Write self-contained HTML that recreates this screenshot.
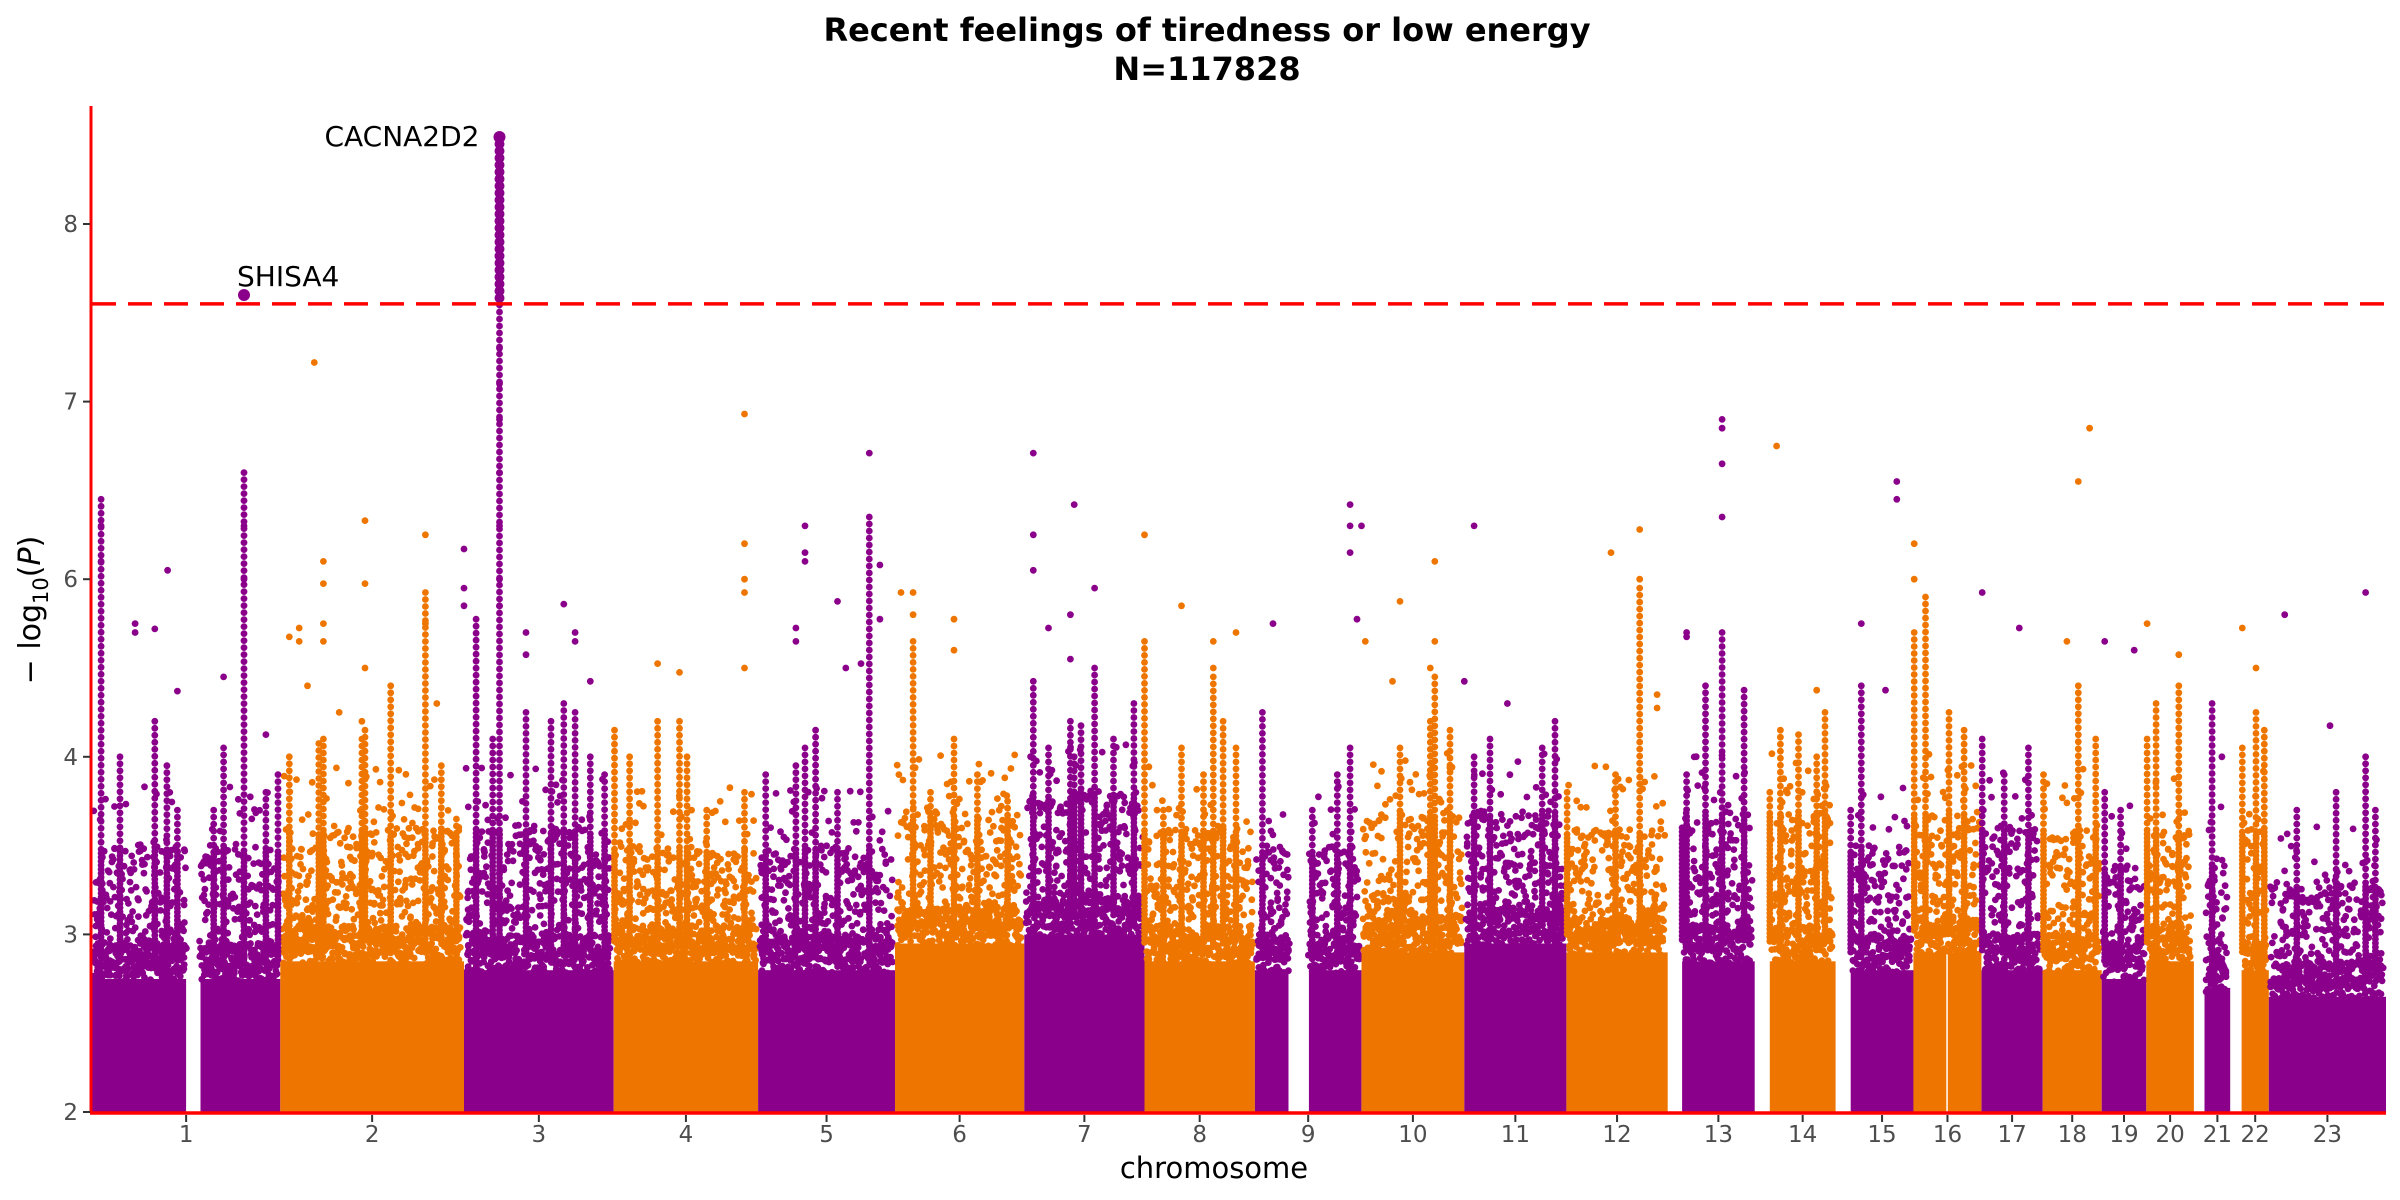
<!DOCTYPE html>
<html><head><meta charset="utf-8"><title>Manhattan plot</title>
<style>
html,body{margin:0;padding:0;background:#fff;}
svg{display:block;font-family:"DejaVu Sans","Liberation Sans",sans-serif;}
</style></head>
<body>
<svg id="chart" width="2400" height="1200" viewBox="0 0 2400 1200" xmlns="http://www.w3.org/2000/svg">
<text x="1207" y="41" text-anchor="middle" font-size="32" font-weight="bold" fill="#000">Recent feelings of tiredness or low energy</text>
<text x="1207" y="80" text-anchor="middle" font-size="32" font-weight="bold" fill="#000">N=117828</text>
<g id="marks"></g>
<g id="axes"></g>
<text x="1214" y="1178" text-anchor="middle" font-size="29" fill="#000">chromosome</text>
<text transform="translate(40,610) rotate(-90)" text-anchor="middle" font-size="30" fill="#000">− log<tspan font-size="21" dy="8">10</tspan><tspan dy="-8">(</tspan><tspan font-style="italic">P</tspan>)</text>
</svg>
<script>
// ---- data ----
const chrLabels=["1","2","3","4","5","6","7","8","9","10","11","12","13","14","15","16","17","18","19","20","21","22","23"];
const chrLen=[249,243,198,191,181,171,159,146,141,136,135,134,115,107,103,90,81,78,59,63,48,51,155];
const chrDataStart=[0,0,0,0,0,0,0,0,0,0,0,0,19,20,20,0,0,0,0,0,14,15,0];
const gapChr=[1,9,16];
const gapFrom=[125,45,44];
const gapTo=[143,71,45];
const solidTop=[2.85,2.95,2.9,2.95,2.9,3.05,3.1,2.95,2.9,3.0,3.05,3.0,2.95,2.95,2.9,3.0,2.9,2.9,2.85,2.95,2.8,2.9,2.75];
const cloudTop=[3.5,3.6,3.6,3.5,3.5,3.7,3.8,3.6,3.5,3.7,3.7,3.6,3.7,3.7,3.5,3.7,3.6,3.6,3.4,3.6,3.4,3.6,3.3];
const yTickLabels=["2","3","4","6","7","8"];
const yTickVals=[2,3,4,6,7,8];
const threshold=7.55;
// streak columns
const colChr=[1,1,1,1,1,1,1,1,1,1, 2,2,2,2,2,2,2,2,2, 3,3,3,3,3,3,3,3,3, 4,4,4,4,4,4,4, 5,5,5,5,5,5, 6,6,6,6,6, 7,7,7,7,7,7,7,7, 8,8,8,8,8,8,8, 9,9,9,9, 10,10,10,10, 11,11,11,11, 12,12,12, 13,13,13,13,13, 14,14,14,14,14, 15,15, 16,16,16,16, 17,17,17, 18,18,18, 19,19, 20,20,20, 21, 22,22,22, 23,23,23,23];
const colPos=[12,37,83,99,113,161,174,201,230,246, 12,51,108,146,192,213,233,57,112, 16,38,47,82,115,132,147,167,186, 1,21,58,87,97,123,173, 10,50,62,76,105,147, 24,47,78,109,149, 12,32,61,75,93,118,145,66, 0,25,49,78,91,104,121, 10,76,109,126, 51,91,97,117, 34,103,120,13, 1,65,97, 19,25,50,72,101, 20,34,58,93,82, 20,34, 1,16,47,67, 1,30,62, 1,47,70, 4,25, 1,13,43, 24, 16,34,45, 37,89,128,141];
const colTop=[6.45,4.0,4.4,3.95,3.7,3.7,4.1,6.6,3.8,3.9, 4.0,4.15,4.2,4.8,5.85,3.95,3.65,4.2,4.3, 5.55,4.2,8.49,4.5,4.4,4.6,4.5,4.0,3.9, 4.3,4.0,4.4,4.4,4.0,3.7,3.8, 3.9,3.95,4.1,4.3,3.8,6.35, 5.3,3.8,4.2,3.9,3.75, 4.85,4.1,4.4,4.35,5.0,4.2,4.6,4.0, 5.3,3.7,4.1,3.9,4.9,4.4,4.1, 4.5,3.7,3.9,4.1, 4.1,4.4,4.9,4.3, 4.2,4.1,4.4,4.0, 3.8,3.9,5.9, 3.6,3.9,4.8,5.4,4.75, 3.8,4.3,4.25,4.5,4.0, 3.7,4.8, 5.4,5.8,4.5,4.3, 4.2,3.9,4.1, 3.9,4.8,4.2, 3.8,3.7, 4.2,4.6,4.8, 4.6, 4.1,4.5,4.3, 3.7,3.8,4.0,3.7];
// isolated points
const ptChr=[1,1,1,1,1,1,1,1,1,1,1, 2,2,2,2,2,2,2,2,2,2,2,2,2,2,2,2,2, 3,3,3,3,3,3,3,3,3,3,3,3,3,3,3,3, 4,4,4,4,4,4,4, 5,5,5,5,5,5,5,5,5,5,5, 6,6,6,6,6, 7,7,7,7,7,7,7,7, 8,8,8,8,8, 9,9,9,9,9,9, 10,10,10,10,10,10, 11,11,11, 12,12,12,12,12, 13,13,13,13,13,13, 14,14, 15,15,15,15, 16,16, 17,17, 18,18,18, 19,19, 20,20, 21, 22,22, 23,23,23];
const ptPos=[12,12,57,57,83,100,113,174,201,201,230, 12,25,25,36,45,57,57,57,57,78,108,112,112,112,192,192,207, 0,0,0,47,47,47,47,47,47,47,82,82,132,147,147,167, 58,87,173,173,173,173,173, 50,50,62,62,62,105,116,147,161,161,136, 8,24,24,78,78, 12,12,12,32,61,61,66,93, 0,49,91,91,121, 141,24,126,126,126,135, 5,41,51,91,97,97, 0,13,57, 59,97,97,120,120, 25,25,72,72,72,72, 29,82, 34,66,81,81, 1,1, 1,50, 32,47,62, 4,43, 1,43, 37, 16,34, 21,81,128];
const ptVal=[6.3,6.1,5.5,5.4,5.44,6.05,4.74,4.9,6.3,6.0,4.25, 5.35,5.45,5.3,4.8,7.22,6.1,5.95,5.5,5.3,4.5,4.4,6.33,5.95,5.0,6.25,5.5,4.6, 6.17,5.9,5.7,7.3,7.1,6.9,6.6,6.3,6.0,5.7,5.4,5.15,5.72,5.3,5.4,4.85, 5.05,4.95,6.93,6.2,6.0,5.85,5.0, 5.45,5.3,6.3,6.15,6.1,5.75,5.0,6.71,6.08,5.55,5.05, 5.85,5.85,5.6,5.55,5.2, 6.71,6.25,6.05,5.45,5.6,5.1,6.42,5.9, 6.25,5.7,5.3,5.0,5.4, 6.3,5.5,6.42,6.3,6.15,5.55, 5.3,4.85,5.75,5.0,6.1,5.3, 4.85,6.3,4.6, 6.15,6.28,6.0,4.7,4.55, 5.4,5.35,6.9,6.85,6.65,6.35, 6.75,4.75, 5.5,4.75,6.55,6.45, 6.2,6.0, 5.85,5.45, 5.3,6.55,6.85, 5.3,5.2, 5.5,5.15, 4.0, 5.45,5.0, 5.6,4.35,5.85];
// labelled hits
const hitChr=[1,3];
const hitPos=[201,47];
const hitVal=[7.6,8.49];
const hitGene=["SHISA4","CACNA2D2"];

// ---- scales ----
const NS="http://www.w3.org/2000/svg";
const X0=92,X1=2386,Y0=1112,YSTEP=177.6,YTOP=106;
const totalLen=chrLen.reduce((a,b)=>a+b,0);
const k=(X1-X0)/totalLen;
const cum=[];{let c=0;for(let i=0;i<chrLen.length;i++){cum.push(c);c+=chrLen[i];}}
function xPos(chr,mb){return X0+(cum[chr-1]+mb)*k;}
function yPos(v){
  for(let i=0;i<yTickVals.length-1;i++){
    const a=yTickVals[i],b=yTickVals[i+1];
    if(v<=b||i===yTickVals.length-2){return Y0-(i+(v-a)/(b-a))*YSTEP;}
  }
}
function colorOf(chr){return chr%2===1?"#8B008B":"#EE7600";}
function hash(n){const s=Math.sin(n*12.9898+78.233)*43758.5453;return s-Math.floor(s);}
function inGap(chr,mb){for(let g=0;g<gapChr.length;g++){if(gapChr[g]===chr&&mb>=gapFrom[g]&&mb<=gapTo[g])return true;}return false;}

const marks=document.getElementById("marks");
function dot(g,x,y,r,c){
  const e=document.createElementNS(NS,"circle");
  e.setAttribute("cx",x.toFixed(1));e.setAttribute("cy",y.toFixed(1));e.setAttribute("r",r);e.setAttribute("fill",c);
  g.appendChild(e);return e;
}

// solid base + cloud per chromosome
for(let c=1;c<=chrLen.length;c++){
  const g=document.createElementNS(NS,"g");
  
  
  marks.appendChild(g);
  const col=colorOf(c);
  const ys=yPos(solidTop[c-1]), yc=yPos(cloudTop[c-1]);
  let segStart=null;
  const step=0.5;
  for(let mb=chrDataStart[c-1];mb<=chrLen[c-1]+0.001;mb+=step){
    const gap=inGap(c,mb);
    if(!gap&&segStart===null)segStart=mb;
    if((gap||mb+step>chrLen[c-1])&&segStart!==null){
      const end=gap?mb-step:chrLen[c-1];
      const r=document.createElementNS(NS,"rect");
      const xa=xPos(c,segStart), xb=xPos(c,end);
      r.setAttribute("x",xa.toFixed(1));r.setAttribute("y",(ys+18).toFixed(1));
      r.setAttribute("width",Math.max(1,xb-xa).toFixed(1));r.setAttribute("height",(Y0-ys-18).toFixed(1));
      r.setAttribute("fill",col);
      
      
      g.appendChild(r);
      segStart=null;
    }
  }
  // cloud texture
  const xs=xPos(c,chrDataStart[c-1]), xe=xPos(c,chrLen[c-1]);
  let n=c*5000;
  for(let x=xs+3;x<=xe-3;x+=2){
    const mb=(x-X0)/k-cum[c-1];
    if(inGap(c,mb))continue;
    for(let j=0;j<10;j++){
      n++;
      const h=hash(n), h2=hash(n+0.5);
      let y;
      if(j<4){y=ys+22-40*h;}
      else if(j<9){y=ys+10-(ys-yc+10)*Math.pow(h,1.2);}
      else{ if(h2>0.35)continue; y=yc-(yc-yPos(cloudTop[c-1]+0.35))*h;}
      dot(g,x+(h2-0.5)*3,y,3.4,col);
    }
  }
}
// streak columns
for(let i=0;i<colChr.length;i++){
  const c=colChr[i], x=xPos(c,colPos[i]), col=colorOf(c);
  const g=document.createElementNS(NS,"g");
  
  
  marks.appendChild(g);
  const yTop=yPos(colTop[i]), yBase=yPos(solidTop[c-1]);
  const yCloud=yPos(cloudTop[c-1]);
  for(let y=yTop;y<=yBase;y+=(y<yCloud?7:4)){
    const big=(y<=yPos(threshold));
    dot(g,x,y,big?5:3.4,col);
  }
}
// isolated points
for(let i=0;i<ptChr.length;i++){
  const c=ptChr[i];
  const e=dot(marks,xPos(c,ptPos[i]),yPos(ptVal[i]),ptVal[i]>=threshold?5:3.4,colorOf(c));
  
  
}
// hits
for(let i=0;i<hitChr.length;i++){
  const x=xPos(hitChr[i],hitPos[i]), y=yPos(hitVal[i]);
  const e=dot(marks,x,y,6,colorOf(hitChr[i]));
  
  
  const t=document.createElementNS(NS,"text");
  
  
  t.setAttribute("font-size","28");t.setAttribute("fill","#000");
  if(i===0){t.setAttribute("x",(x-7).toFixed(1));t.setAttribute("y",(y-9).toFixed(1));}
  else{t.setAttribute("x",(x-20).toFixed(1));t.setAttribute("y",(y+9).toFixed(1));t.setAttribute("text-anchor","end");}
  t.textContent=hitGene[i];
  marks.appendChild(t);
}

// ---- axes ----
const axes=document.getElementById("axes");
function line(x1,y1,x2,y2,stroke,w,name,dash){
  const l=document.createElementNS(NS,"line");
  l.setAttribute("x1",x1);l.setAttribute("y1",y1);l.setAttribute("x2",x2);l.setAttribute("y2",y2);
  l.setAttribute("stroke",stroke);l.setAttribute("stroke-width",w);
  if(dash)l.setAttribute("stroke-dasharray",dash);
  
  
  axes.appendChild(l);return l;
}
const yt=yPos(threshold);
line(X0,yt,X1,yt,"#FF0000",3.5,"significance-threshold-line","24,12");
line(X0-1,YTOP,X0-1,Y0,"#FF0000",3,"y-axis-line");
line(X0-2,Y0+1,X1,Y0+1,"#FF0000",3.5,"x-axis-line");
for(let i=0;i<yTickVals.length;i++){
  const y=Y0-i*YSTEP;
  line(X0-9,y,X0-2,y,"#333",2,"y-tick");
  const t=document.createElementNS(NS,"text");
  
  
  t.setAttribute("x",X0-14);t.setAttribute("y",y+8);t.setAttribute("text-anchor","end");
  t.setAttribute("font-size","23");t.setAttribute("fill","#4D4D4D");
  t.textContent=yTickLabels[i];axes.appendChild(t);
}
for(let c=1;c<=chrLen.length;c++){
  const x=xPos(c,(chrDataStart[c-1]+chrLen[c-1])/2);
  line(x,Y0+3,x,Y0+10,"#333",2,"x-tick");
  const t=document.createElementNS(NS,"text");
  
  
  t.setAttribute("x",x);t.setAttribute("y",Y0+30);t.setAttribute("text-anchor","middle");
  t.setAttribute("font-size","23");t.setAttribute("fill","#4D4D4D");
  t.textContent=chrLabels[c-1];axes.appendChild(t);
}
</script>
</body></html>
